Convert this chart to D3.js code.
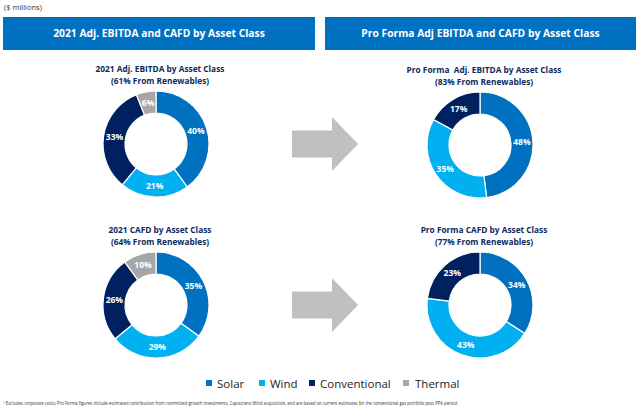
<!DOCTYPE html>
<html><head><meta charset="utf-8">
<script src="https://cdn.jsdelivr.net/npm/d3@7"></script>
<style>body{margin:0;background:#fff}svg{display:block}</style>
</head><body><svg id="c" width="640" height="411"></svg>
<script>
const categories = ["Solar", "Wind", "Conventional", "Thermal"];
const colors = ["#0070c0", "#00b0f0", "#002060", "#a6a6a6"];
const ebitda2021 = [40, 21, 33, 6];
const ebitdaProForma = [48, 35, 17, 0];
const cafd2021 = [35, 29, 26, 10];
const cafdProForma = [34, 43, 23, 0];
const bannerTitles = ["2021 Adj. EBITDA and CAFD by Asset Class", "Pro Forma Adj EBITDA and CAFD by Asset Class"];
const donutTitles = [
  ["2021 Adj. EBITDA by Asset Class", "(61% From Renewables)"],
  ["Pro Forma  Adj. EBITDA by Asset Class", "(83% From Renewables)"],
  ["2021 CAFD by Asset Class", "(64% From Renewables)"],
  ["Pro Forma CAFD by Asset Class", "(77% From Renewables)"]
];
const footnote = "Excludes corporate costs; Pro Forma figures include estimated contribution from committed growth investments, Capistrano Wind acquisition, and are based on current estimates for the conventional gas portfolio post PPA period";

const svg = d3.select("#c");
const font = "'Open Sans', 'Noto Sans', sans-serif";

svg.append("text").attr("x", 4).attr("y", 10).attr("font-family", font)
  .attr("font-size", 7.5).attr("fill", "#333").text("($ millions)");

const banners = [{x: 3, w: 312}, {x: 325, w: 311}];
banners.forEach((b, i) => {
  svg.append("rect").attr("x", b.x).attr("y", 17).attr("width", b.w).attr("height", 33).attr("fill", "#0070c0");
  svg.append("text").attr("x", b.x + b.w / 2).attr("y", 37).attr("text-anchor", "middle")
    .attr("font-family", font).attr("font-weight", "bold").attr("font-size", 10.3).attr("fill", "#fff")
    .text(bannerTitles[i]);
});

const datasets = [ebitda2021, ebitdaProForma, cafd2021, cafdProForma];
const centers = [{x: 156, y: 144}, {x: 480, y: 145}, {x: 156, y: 305}, {x: 480, y: 305}];
const outerR = 53, innerR = 31;
const pie = d3.pie().sort(null).value(d => d.v);
const arc = d3.arc().innerRadius(innerR).outerRadius(outerR);
const labelArc = d3.arc().innerRadius((innerR + outerR) / 2).outerRadius((innerR + outerR) / 2);

datasets.forEach((vals, i) => {
  const c = centers[i];
  const g = svg.append("g").attr("transform", `translate(${c.x},${c.y})`);
  const data = vals.map((v, k) => ({v, k})).filter(d => d.v > 0);
  const arcs = pie(data);
  g.selectAll("path").data(arcs).join("path").attr("d", arc)
    .attr("fill", d => colors[d.data.k]).attr("stroke", "#fff").attr("stroke-width", 1.2);
  g.selectAll("text").data(arcs).join("text")
    .attr("transform", d => `translate(${labelArc.centroid(d)})`)
    .attr("text-anchor", "middle").attr("dy", "0.35em")
    .attr("font-family", font).attr("font-weight", "bold").attr("font-size", 8.5).attr("fill", "#fff")
    .text(d => d.data.v + "%");
  donutTitles[i].forEach((line, j) => {
    svg.append("text").attr("x", c.x + 4).attr("y", c.y - 72 + j * 11.5).attr("text-anchor", "middle")
      .style("white-space", "pre")
      .attr("font-family", font).attr("font-weight", "bold").attr("font-size", 8.3).attr("fill", "#0e2a5c")
      .text(line);
  });
});

// arrows
[144, 305].forEach(cy => {
  const x0 = 292, x1 = 332, x2 = 358;
  const pts = [[x0, cy - 13.5], [x1, cy - 13.5], [x1, cy - 27], [x2, cy], [x1, cy + 27], [x1, cy + 13.5], [x0, cy + 13.5]];
  svg.append("path").attr("d", d3.line()(pts) + "Z").attr("fill", "#c0c0c0");
});

// legend
const legX = [206, 259, 309, 403];
categories.forEach((cat, k) => {
  svg.append("rect").attr("x", legX[k]).attr("y", 380).attr("width", 6).attr("height", 6).attr("fill", colors[k]);
  svg.append("text").attr("x", legX[k] + (k === 3 ? 12 : 11)).attr("y", 387.5).attr("font-family", font)
    .attr("font-size", 11.5).attr("fill", "#222").text(cat);
});

const fn = svg.append("text").attr("x", 3).attr("y", 405).attr("font-family", font)
  .attr("font-size", 5).attr("fill", "#333").attr("textLength", 454).attr("lengthAdjust", "spacingAndGlyphs");
fn.append("tspan").attr("font-size", 3.5).attr("dy", -1.5).text("1");
fn.append("tspan").attr("dy", 1.5).text(" " + footnote);
</script></body></html>
